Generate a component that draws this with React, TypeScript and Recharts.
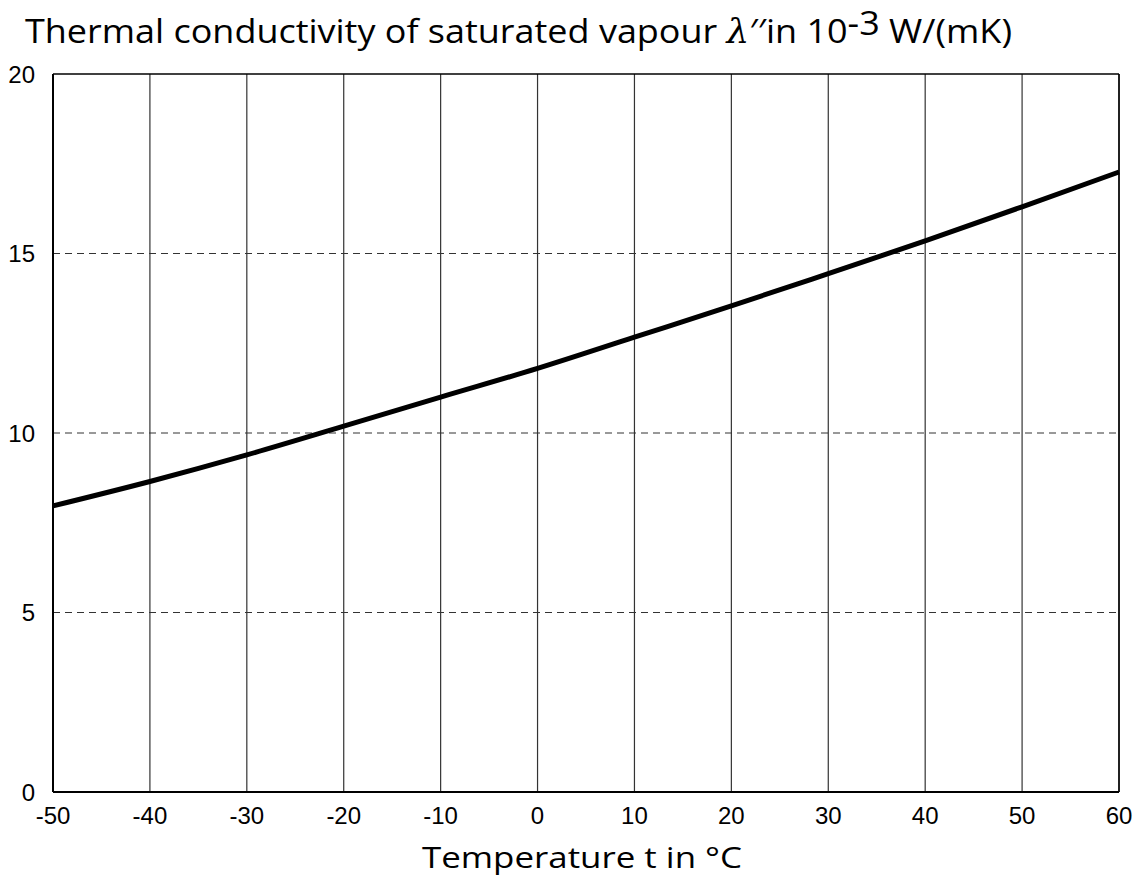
import { LineChart, Line, XAxis, YAxis, CartesianGrid, ReferenceLine, Customized } from "recharts";

// temperature t in °C and thermal conductivity of saturated vapour in 10^-3 W/(mK)
const temps = [-50, -40, -30, -20, -10, 0, 10, 20, 30, 40, 50, 60];
const conductivity = [7.97, 8.65, 9.39, 10.19, 11.0, 11.8, 12.67, 13.54, 14.44, 15.35, 16.3, 17.27];

const xTicks = [-50, -40, -30, -20, -10, 0, 10, 20, 30, 40, 50, 60];
const yTicks = [0, 5, 10, 15, 20];
const dashedLevels = [5, 10, 15];

const data = temps.map((t, i) => ({ t, k: conductivity[i] }));

const TICK_FONT = "'Liberation Sans', Arial, sans-serif";
const LABEL_FONT = "'Open Sans', 'Noto Sans', sans-serif";

/* title + axis caption drawn straight into the svg */
const Captions = () => (
  <g>
    <text x={25} y={43} fontFamily={LABEL_FONT} fontSize={33} fill="#000"
      textLength={987} lengthAdjust="spacingAndGlyphs">
      Thermal conductivity of saturated vapour{" "}
      <tspan fontStyle="italic" fontFamily="'DejaVu Serif', serif">λ</tspan>′′in 10
      <tspan dy={-8}>-3</tspan>
      <tspan dy={8}> W/(mK)</tspan>
    </text>
    <text x={422} y={868} fontFamily={LABEL_FONT} fontSize={30} fill="#000"
      textLength={320} lengthAdjust="spacingAndGlyphs">
      Temperature t in °C
    </text>
  </g>
);

export default function App() {
  return (
    <div style={{ position: "absolute", left: 0, top: 0, width: 1140, height: 883, background: "#fff" }}>
      <LineChart width={1140} height={883} data={data}
        margin={{ top: 74, right: 21, bottom: 51, left: 0 }}>
        <CartesianGrid horizontal={false} stroke="#333" strokeWidth={1.2} />
        {dashedLevels.map(v => (
          <ReferenceLine key={v} y={v} stroke="#333" strokeWidth={1} strokeDasharray="7 5" />
        ))}
        <XAxis
          type="number" dataKey="t" domain={[-50, 60]} ticks={xTicks}
          height={40} tickSize={0} tickMargin={15} interval={0}
          axisLine={{ stroke: "#000", strokeWidth: 2 }}
          tick={{ fill: "#000", fontSize: 24, fontFamily: TICK_FONT }}
        />
        <YAxis
          type="number" domain={[0, 20]} ticks={yTicks}
          width={53} tickSize={0} tickMargin={18} interval={0}
          axisLine={{ stroke: "#000", strokeWidth: 2 }}
          tick={{ fill: "#000", fontSize: 24, fontFamily: TICK_FONT }}
        />
        <ReferenceLine y={20} stroke="#000" strokeWidth={1.5} />
        <ReferenceLine x={60} stroke="#000" strokeWidth={1.5} />
        <Line type="monotone" dataKey="k" stroke="#000" strokeWidth={5}
          dot={false} isAnimationActive={false} />
        <Customized component={Captions} />
      </LineChart>
    </div>
  );
}
